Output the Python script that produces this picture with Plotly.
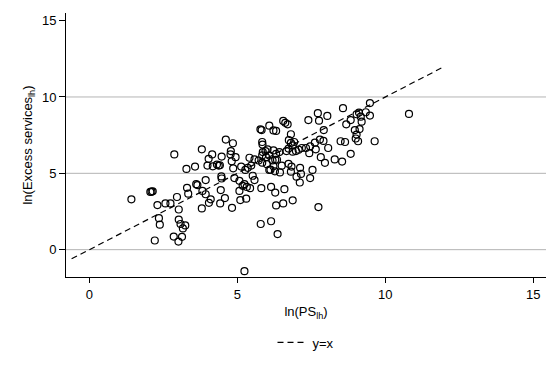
import plotly.graph_objects as go

# ln(PS_lh)
ps_lh = [1.42, 2.06, 2.10, 2.14, 2.30, 2.57, 2.74, 2.96, 3.02, 2.35, 2.38, 2.21, 2.85, 3.01, 3.13,
         3.02, 3.08, 3.24, 3.16, 2.87, 3.28, 3.57, 3.30, 3.34, 3.61, 3.65, 3.80, 3.93, 3.82, 3.93,
         4.10, 3.80, 4.04, 4.03, 4.15, 4.17, 4.31, 4.37, 4.42, 4.58, 4.47, 4.46, 4.47, 4.44, 4.61,
         4.85, 4.78, 4.77, 4.81, 4.94, 4.86, 4.90, 4.82, 5.07, 5.07, 5.13, 5.27, 5.35, 5.41, 5.47,
         5.58, 5.52, 5.58, 5.43, 5.30, 5.10, 5.24, 5.18, 5.32, 5.81, 5.72, 5.84, 5.86, 5.78, 5.82,
         5.84, 5.85, 6.08, 6.22, 6.31, 6.02, 6.08, 5.95, 6.22, 6.31, 6.19, 6.12, 6.27, 6.14, 6.28,
         6.31, 5.79, 6.14, 6.36, 5.24, 6.55, 6.62, 6.70, 6.81, 6.74, 6.81, 6.92, 6.87, 7.40, 7.72,
         7.76, 8.04, 8.57, 9.48, 9.03, 9.11, 9.34, 9.17, 9.48, 8.83, 8.68, 9.20, 8.97, 9.13, 9.03,
         9.00, 9.08, 9.64, 8.49, 8.64, 7.92, 7.79, 7.91, 7.62, 7.46, 7.32, 7.18, 7.07, 6.98, 6.87,
         7.43, 7.65, 8.07, 7.82, 7.96, 8.29, 8.54, 8.83, 6.73, 6.66, 6.42, 6.34, 5.97, 6.08, 6.22,
         6.44, 6.73, 6.83, 6.81, 7.00, 7.12, 7.15, 7.11, 7.54, 7.46, 6.59, 6.55, 6.87, 7.74, 10.80,
         5.84, 6.28, 6.00, 3.99, 4.41, 6.50]

# ln(Excess services_lh)
excess_lh = [3.30, 3.78, 3.80, 3.82, 2.92, 3.03, 3.03, 3.45, 2.63, 2.06, 1.64, 0.60, 0.86, 0.53, 0.84,
             1.97, 1.68, 1.59, 1.39, 6.24, 5.29, 5.44, 4.05, 3.67, 4.29, 4.23, 6.57, 4.56, 3.85, 3.63,
             3.30, 2.70, 3.07, 5.95, 6.24, 5.46, 5.57, 5.51, 3.03, 3.38, 6.10, 4.80, 4.66, 3.90, 7.21,
             6.97, 6.46, 6.24, 5.79, 6.06, 5.33, 4.69, 2.74, 3.85, 4.51, 5.44, 5.22, 5.36, 6.02, 5.51,
             5.91, 4.84, 4.56, 4.03, 3.34, 3.25, 4.29, 4.18, 4.11, 4.03, 5.84, 6.17, 6.39, 7.88, 7.83,
             7.05, 6.88, 8.12, 7.81, 7.78, 6.57, 6.17, 6.46, 6.50, 6.28, 5.84, 5.24, 5.13, 4.11, 3.74,
             2.90, 1.68, 1.86, 1.02, -1.41, 8.43, 8.31, 8.21, 7.56, 7.17, 6.99, 7.05, 6.83, 8.49, 8.94,
             8.45, 8.76, 9.27, 9.60, 8.87, 8.98, 9.00, 8.71, 8.78, 8.49, 8.21, 8.38, 7.83, 7.90, 7.54,
             7.28, 7.10, 7.10, 7.10, 7.05, 7.83, 7.21, 7.12, 7.01, 6.77, 6.66, 6.66, 6.55, 6.46, 6.42,
             6.32, 6.57, 6.66, 6.06, 5.69, 5.91, 5.77, 6.28, 6.62, 6.46, 6.39, 5.89, 6.06, 5.22, 5.46,
             5.06, 5.62, 5.44, 5.11, 4.78, 5.36, 4.96, 4.40, 5.22, 4.69, 3.96, 3.03, 3.23, 2.79, 8.89,
             5.70, 5.89, 5.60, 5.51, 5.53, 5.50]

# 45-degree reference line
line_x = [-0.6, 12.0]
line_y = [-0.6, 12.0]

x_ticks = [0, 5, 10, 15]
y_ticks = [0, 5, 10, 15]
y_grid = [0, 5, 10]

FONT = "Liberation Sans, Arial, Helvetica, sans-serif"

fig = go.Figure()
fig.add_trace(go.Scatter(
    x=ps_lh, y=excess_lh, mode="markers", showlegend=False,
    marker=dict(symbol="circle-open", size=7, color="black", line=dict(width=1.2, color="black")),
))
fig.add_trace(go.Scatter(
    x=line_x, y=line_y, mode="lines", name="y=x",
    line=dict(color="black", width=1.2, dash="6px,4px"),
))

for g in y_grid:
    fig.add_shape(type="line", xref="paper", x0=0, x1=1, yref="y", y0=g, y1=g,
                  line=dict(color="#b4b4b4", width=1), layer="below")

fig.update_layout(
    width=556, height=371,
    margin=dict(l=66, r=10, t=13, b=94, autoexpand=False),
    paper_bgcolor="white", plot_bgcolor="white",
    font=dict(family=FONT, size=13, color="black"),
    legend=dict(orientation="h", x=0.5, xanchor="center", y=-0.248, yanchor="middle",
                font=dict(size=13), itemwidth=30, bgcolor="rgba(0,0,0,0)"),
)
fig.update_xaxes(
    range=[-0.79, 15.43], tickvals=x_ticks, ticktext=[str(t) for t in x_ticks],
    showgrid=False, zeroline=False, showline=True, linecolor="black", linewidth=1,
    ticks="outside", ticklen=5, tickcolor="black", tickfont=dict(size=13), automargin=False,
    title=dict(text="ln(PS<sub>lh</sub>)", font=dict(size=13), standoff=6),
)
fig.update_yaxes(
    range=[-1.79, 15.5], tickvals=y_ticks, ticktext=[str(t) for t in y_ticks],
    showgrid=False, zeroline=False, showline=True, linecolor="black", linewidth=1,
    ticks="outside", ticklen=6, tickcolor="black", tickfont=dict(size=13), automargin=False,
    title=dict(text="ln(Excess services<sub>lh</sub>)", font=dict(size=13), standoff=6),
)

fig.write_html("out.html", config={"displayModeBar": False},
               post_script="document.body.style.margin='0';")
